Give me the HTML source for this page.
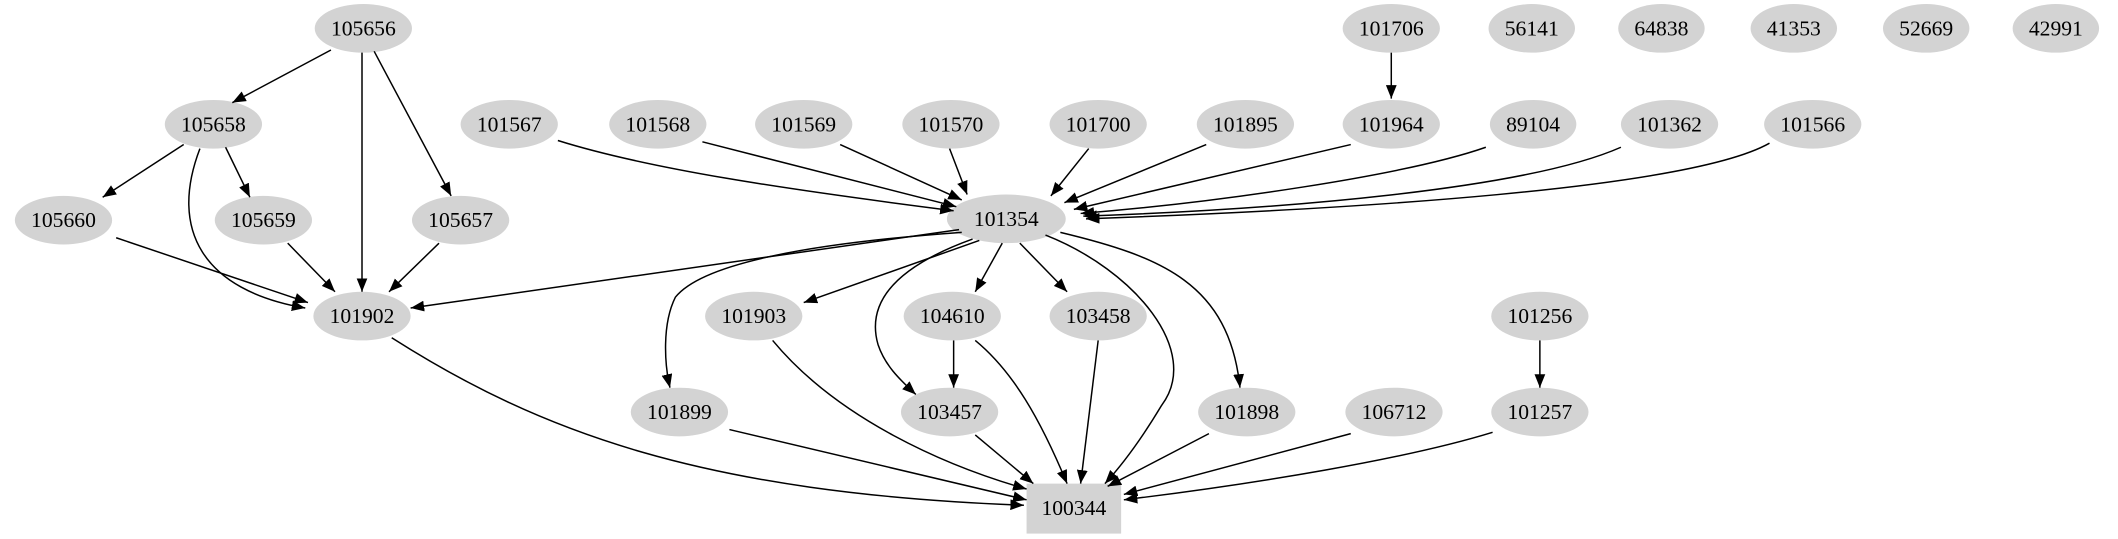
<!DOCTYPE html>
<html><head><meta charset="utf-8"><style>
html,body{margin:0;padding:0;background:#fff;}
svg{display:block;}
text{font-family:"Liberation Serif",serif;font-size:16px;text-anchor:middle;dominant-baseline:central;fill:#000;}
</style></head><body>
<svg width="2118" height="539" viewBox="0 0 1568 399" preserveAspectRatio="none" xmlns="http://www.w3.org/2000/svg">
<defs><marker id="a" markerWidth="10" markerHeight="8" refX="10" refY="4" orient="auto" markerUnits="userSpaceOnUse"><path d="M0,0 L10,4 L0,8 z" fill="#000"/></marker></defs>
<g fill="#d3d3d3">
<ellipse cx="269" cy="21" rx="36" ry="18"/>
<ellipse cx="1030" cy="21" rx="36" ry="18"/>
<ellipse cx="1134" cy="21" rx="32" ry="18"/>
<ellipse cx="1230" cy="21" rx="32" ry="18"/>
<ellipse cx="1328" cy="21" rx="32" ry="18"/>
<ellipse cx="1426" cy="21" rx="32" ry="18"/>
<ellipse cx="1522" cy="21" rx="32" ry="18"/>
<ellipse cx="158" cy="92" rx="36" ry="18"/>
<ellipse cx="377" cy="92" rx="36" ry="18"/>
<ellipse cx="487" cy="92" rx="36" ry="18"/>
<ellipse cx="595" cy="92" rx="36" ry="18"/>
<ellipse cx="704" cy="92" rx="36" ry="18"/>
<ellipse cx="813" cy="92" rx="36" ry="18"/>
<ellipse cx="922" cy="92" rx="36" ry="18"/>
<ellipse cx="1030" cy="92" rx="36" ry="18"/>
<ellipse cx="1135" cy="92" rx="32" ry="18"/>
<ellipse cx="1236" cy="92" rx="36" ry="18"/>
<ellipse cx="1342" cy="92" rx="36" ry="18"/>
<ellipse cx="47" cy="163" rx="36" ry="18"/>
<ellipse cx="195" cy="163" rx="36" ry="18"/>
<ellipse cx="341" cy="163" rx="36" ry="18"/>
<ellipse cx="745" cy="162" rx="44" ry="18"/>
<ellipse cx="268" cy="234" rx="36" ry="18"/>
<ellipse cx="558" cy="234" rx="36" ry="18"/>
<ellipse cx="705" cy="234" rx="36" ry="18"/>
<ellipse cx="813" cy="234" rx="36" ry="18"/>
<ellipse cx="1140" cy="234" rx="36" ry="18"/>
<ellipse cx="503" cy="305" rx="36" ry="18"/>
<ellipse cx="703" cy="305" rx="36" ry="18"/>
<ellipse cx="923" cy="305" rx="36" ry="18"/>
<ellipse cx="1032" cy="305" rx="36" ry="18"/>
<ellipse cx="1140" cy="305" rx="36" ry="18"/>
<rect x="760" y="358" width="70" height="37"/>
</g>
<g fill="none" stroke="#000" stroke-width="1.1" marker-end="url(#a)">
<path d="M245,37 L172,76"/>
<path d="M268,39 L268,216"/>
<path d="M277,38 L334,145"/>
<path d="M136,107 L76,146"/>
<path d="M167,109 L185,146"/>
<path d="M148,110 C125,170 150,215 226,228"/>
<path d="M86,176 L228,224"/>
<path d="M213,180 L248,216"/>
<path d="M325,180 L288,216"/>
<path d="M413,104 C480,125 580,140 706,156"/>
<path d="M520,105 L708,153"/>
<path d="M622,107 L712,148"/>
<path d="M703,110 L716,144"/>
<path d="M806,110 L778,145"/>
<path d="M893,107 L788,150"/>
<path d="M1000,107 L795,155"/>
<path d="M1100,109 C1040,130 900,150 800,158"/>
<path d="M1200,109 C1130,140 950,155 802,160"/>
<path d="M1310,106 C1250,140 1000,155 804,162"/>
<path d="M1030,39 L1030,73"/>
<path d="M710,170 L304,228"/>
<path d="M712,172 C600,180 520,195 500,220 C490,240 492,270 496,287"/>
<path d="M725,178 L595,224"/>
<path d="M720,177 C670,195 640,220 650,255 C655,270 665,280 678,292"/>
<path d="M742,180 L722,216"/>
<path d="M755,180 L790,216"/>
<path d="M774,174 C840,200 890,260 860,300 C845,325 830,345 818,358"/>
<path d="M785,172 C860,190 910,210 918,287"/>
<path d="M706,252 L706,287"/>
<path d="M722,252 C750,275 770,310 790,358"/>
<path d="M813,252 L800,358"/>
<path d="M290,250 C400,320 520,365 758,374"/>
<path d="M572,252 C620,310 700,345 760,362"/>
<path d="M540,318 L760,370"/>
<path d="M722,322 L765,358"/>
<path d="M895,321 L820,360"/>
<path d="M1000,321 L832,366"/>
<path d="M1105,320 C1040,340 930,358 832,370"/>
<path d="M1140,252 L1140,287"/>
</g>
<g>
<text x="269" y="21">105656</text>
<text x="1030" y="21">101706</text>
<text x="1134" y="21">56141</text>
<text x="1230" y="21">64838</text>
<text x="1328" y="21">41353</text>
<text x="1426" y="21">52669</text>
<text x="1522" y="21">42991</text>
<text x="158" y="92">105658</text>
<text x="377" y="92">101567</text>
<text x="487" y="92">101568</text>
<text x="595" y="92">101569</text>
<text x="704" y="92">101570</text>
<text x="813" y="92">101700</text>
<text x="922" y="92">101895</text>
<text x="1030" y="92">101964</text>
<text x="1135" y="92">89104</text>
<text x="1236" y="92">101362</text>
<text x="1342" y="92">101566</text>
<text x="47" y="163">105660</text>
<text x="195" y="163">105659</text>
<text x="341" y="163">105657</text>
<text x="745" y="162">101354</text>
<text x="268" y="234">101902</text>
<text x="558" y="234">101903</text>
<text x="705" y="234">104610</text>
<text x="813" y="234">103458</text>
<text x="1140" y="234">101256</text>
<text x="503" y="305">101899</text>
<text x="703" y="305">103457</text>
<text x="923" y="305">101898</text>
<text x="1032" y="305">106712</text>
<text x="1140" y="305">101257</text>
<text x="795" y="376">100344</text>
</g>
</svg>
</body></html>
